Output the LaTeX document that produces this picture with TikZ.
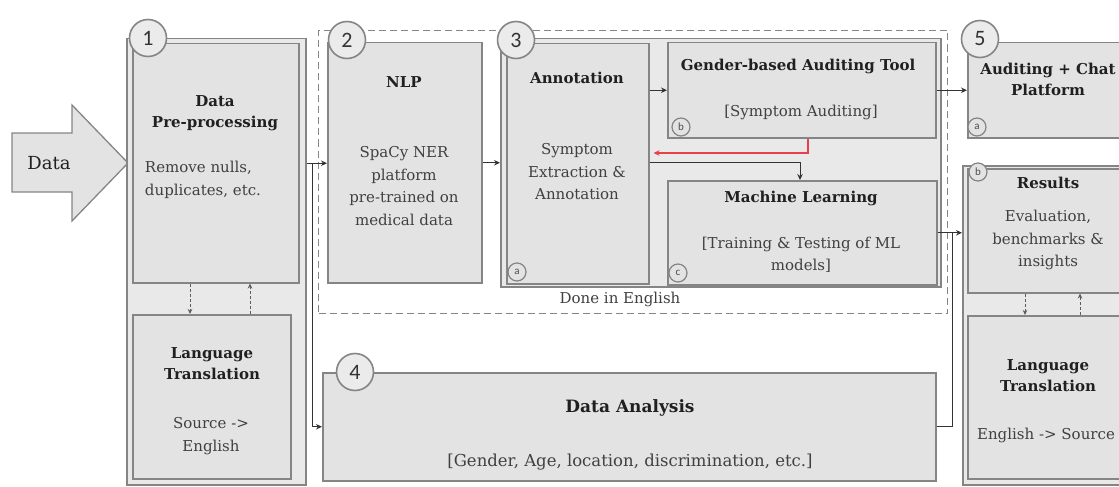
\documentclass[tikz,border=0pt]{standalone}
\usepackage{fontspec}
\setmainfont{DejaVu Serif}
\newfontfamily\numfont{Carlito}
\usetikzlibrary{arrows.meta}
\definecolor{boxfill}{HTML}{E3E3E3}
\definecolor{contfill}{HTML}{E9E9E9}
\definecolor{boxline}{HTML}{858585}
\definecolor{txt}{HTML}{404040}
\definecolor{ttlc}{HTML}{202020}
\definecolor{redline}{HTML}{E8404A}
\definecolor{connc}{HTML}{333333}
\begin{document}
\begin{tikzpicture}[x=1pt,y=-1pt,
  box/.style={draw=boxline, fill=boxfill, line width=1.5pt, anchor=north west, inner sep=0pt, rectangle},
  cont/.style={draw=boxline, fill=contfill, line width=1.5pt, anchor=north west, inner sep=0pt, rectangle},
  dashbox/.style={draw=boxline, dashed, dash pattern=on 7pt off 4pt, line width=1pt, anchor=north west, inner sep=0pt, rectangle},
  num/.style={circle, draw=boxline, line width=1.6pt, fill=white!92!black, minimum size=37pt, inner sep=0pt, text=black!80, font=\numfont\fontsize{22}{22}\selectfont},
  sub/.style={circle, draw=boxline, line width=1.2pt, fill=boxfill, minimum size=18pt, inner sep=0pt, text=black!70, font=\numfont\fontsize{11}{11}\selectfont},
  ttl/.style={font=\bfseries\fontsize{15}{21}\selectfont, text=ttlc, align=center, inner sep=0pt},
  body/.style={font=\fontsize{15}{22.5}\selectfont, text=txt, align=center, inner sep=0pt},
  conn/.style={draw=connc, line width=1pt, -{Stealth[length=6pt,width=5.5pt]}},
  thinconn/.style={draw=connc!80, line width=0.8pt, densely dashed, -{Stealth[length=5pt,width=4.5pt]}},
  plainline/.style={draw=connc, line width=1pt},
]
\useasboundingbox (0,0) rectangle (1119,487);
\clip (0,0) rectangle (1119,487);

% Data arrow
\draw[draw=boxline, fill=boxfill, line width=1.3pt] (12,133) -- (72,133) -- (72,105) -- (128,163) -- (72,221) -- (72,192) -- (12,192) -- cycle;
\node[font=\fontsize{18}{18}\selectfont, text=ttlc] (datalbl) at (49,163) {Data};

% Column 1
\node[cont, minimum width=179pt, minimum height=446pt] (c1) at (126,38) {};
\node[box, minimum width=166pt, minimum height=239pt] (pre) at (132,43) {};
\node[box, minimum width=158pt, minimum height=164pt] (lt1) at (132,314) {};
\node[num] (n1) at (148,38) {1};
\node[ttl] (t1) at (215,113) {Data\\Pre-processing};
\node[body, align=left] (b1) at (203,180) {Remove nulls,\\duplicates, etc.};
\node[ttl] (t1b) at (212,364) {Language\\Translation};
\node[body] (b1b) at (211,436) {Source ->\\English};

% Done in English
\node[dashbox, minimum width=629pt, minimum height=283pt] (eng) at (318,30) {};
\node[body] (engl) at (620,299) {Done in English};

% Column 2
\node[box, minimum width=154pt, minimum height=240pt] (nlp) at (327,42) {};
\node[num] (n2) at (347,40) {2};
\node[ttl] (t2) at (404,82) {NLP};
\node[body] (b2) at (404,186) {SpaCy NER\\platform\\pre-trained on\\medical data};

% Column 3
\node[cont, minimum width=440pt, minimum height=248pt] (c3) at (500,38) {};
\node[box, minimum width=142pt, minimum height=240pt] (ann) at (506,43) {};
\node[box, minimum width=268pt, minimum height=95pt] (gat) at (667,42) {};
\node[box, minimum width=269pt, minimum height=104pt] (ml) at (667,180) {};
\node[num] (n3) at (516,40) {3};
\node[sub] (sa) at (517,272) {a};
\node[sub] (sb) at (681,127) {b};
\node[sub] (sc) at (678,273) {c};
\node[ttl] (t3) at (577,78) {Annotation};
\node[body] (b3) at (577,172) {Symptom\\Extraction \&\\Annotation};
\node[ttl] (t3b) at (798,66) {Gender-based Auditing Tool};
\node[body] (b3b) at (801,112) {[Symptom Auditing]};
\node[ttl] (t3c) at (801,198) {Machine Learning};
\node[body] (b3c) at (801,255) {[Training \& Testing of ML\\models]};

% Data analysis
\node[box, minimum width=613pt, minimum height=108pt] (da) at (322,372) {};
\node[num] (n4) at (355,372) {4};
\node[ttl, font=\bfseries\fontsize{17}{20}\selectfont] (t4) at (630,408) {Data Analysis};
\node[body, font=\fontsize{16.5}{20}\selectfont] (b4) at (630,462) {[Gender, Age, location, discrimination, etc.]};

% Column 5
\node[box, minimum width=170pt, minimum height=95pt] (acp) at (967,42) {};
\node[num] (n5) at (980,39) {5};
\node[sub] (s5a) at (977,127) {a};
\node[ttl] (t5) at (1048,79) {Auditing + Chat\\Platform};
\node[cont, minimum width=170pt, minimum height=319pt] (c5) at (962,165) {};
\node[box, minimum width=165pt, minimum height=124pt] (res) at (967,168) {};
\node[box, minimum width=165pt, minimum height=163pt] (lt2) at (967,315) {};
\node[sub] (s5b) at (978,172) {b};
\node[ttl] (t5b) at (1048,183) {Results};
\node[body] (b5b) at (1048,240) {Evaluation,\\benchmarks \&\\insights};
\node[ttl] (t5c) at (1048,376) {Language\\Translation};
\node[body] (b5c) at (1046,435) {English -> Source};

% helper coordinates
\coordinate (j1) at (312,163);
\coordinate (r1) at (808,153);
\coordinate (g1) at (800,162);
\coordinate (j2) at (952,232);
\coordinate (v1) at (190,0);
\coordinate (v2) at (250,0);
\coordinate (v3) at (1025,0);
\coordinate (v4) at (1080,0);

% connectors
\draw[conn] (c1.east |- pre.east) -- (nlp.west |- pre.east);
\draw[conn] (j1) |- (da.west);
\draw[conn] (nlp.east) -- (c3.west |- nlp.east);
\draw[conn] (ann.east |- gat.west) -- (gat.west);
\draw[conn] (gat.east) -- (acp.west);
\draw[conn, draw=redline, line width=1.3pt] (gat.south -| r1) |- ([xshift=4pt]ann.east |- r1);
\draw[conn] (ann.east |- g1) -| (ml.north -| g1);
\draw[conn] (ml.east) -- (c5.west |- ml.east);
\draw[plainline] (da.east) -| (j2);
\draw[thinconn] (pre.south -| v1) -- (lt1.north -| v1);
\draw[thinconn] (lt1.north -| v2) -- (pre.south -| v2);
\draw[thinconn] (res.south -| v3) -- (lt2.north -| v3);
\draw[thinconn] (lt2.north -| v4) -- (res.south -| v4);
\end{tikzpicture}
\end{document}
